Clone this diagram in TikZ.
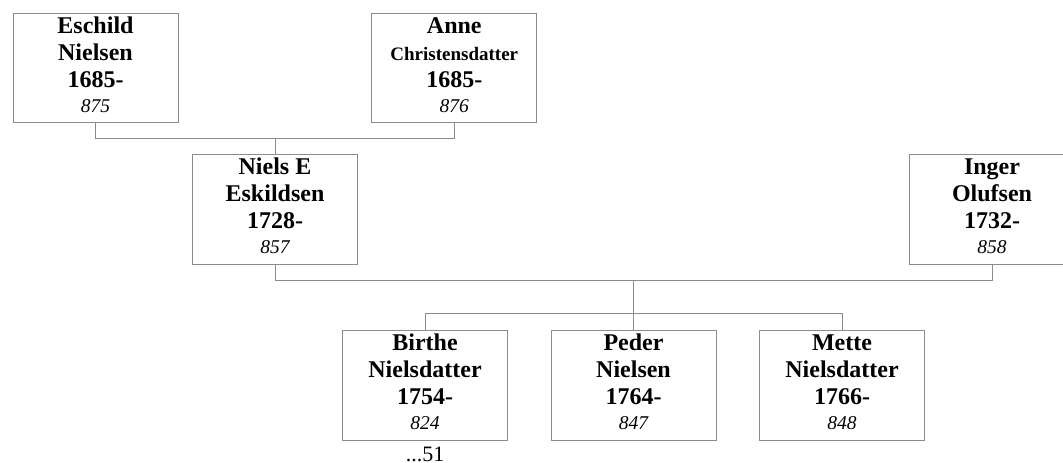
\documentclass[tikz,border=0pt]{standalone}
\usepackage{fontspec}
\setmainfont{Liberation Serif}
\usetikzlibrary{calc}
\definecolor{lc}{RGB}{140,140,140}
\newcommand\personbox[8]{%
  \node[box,anchor=north] (#1) at (#2,#3) {};
  \node[nm] (#1-a) at ($(#1.north)+(0,20.5)$) {#4};
  \node[nm,font=#8] (#1-b) at ($(#1.north)+(0,47.5)$) {#5};
  \node[nm] (#1-c) at ($(#1.north)+(0,74.5)$) {#6};
  \node[num] (#1-d) at ($(#1.north)+(0,99.5)$) {#7};
}
\begin{document}
\begin{tikzpicture}[x=1pt,y=-1pt,
  box/.style={draw=lc,line width=1pt,minimum width=165pt,minimum height=109.5pt,inner sep=0pt,fill=white},
  nm/.style={anchor=base,inner sep=0pt,font=\bfseries\fontsize{24}{24}\selectfont},
  num/.style={anchor=base,inner sep=0pt,font=\itshape\fontsize{19.5}{19.5}\selectfont},
  ln/.style={draw=lc,line width=1pt}]
\useasboundingbox (0,0) rectangle (1063,463);
\clip (0,0) rectangle (1063,463);
\personbox{A}{95.5}{12.7}{Eschild}{Nielsen}{1685-}{875}{\bfseries\fontsize{24}{24}\selectfont}
\personbox{B}{454.3}{12.7}{Anne}{Christensdatter}{1685-}{876}{\bfseries\fontsize{19}{19}\selectfont}
\personbox{C}{275}{154}{Niels E}{Eskildsen}{1728-}{857}{\bfseries\fontsize{24}{24}\selectfont}
\personbox{D}{992}{154}{Inger}{Olufsen}{1732-}{858}{\bfseries\fontsize{24}{24}\selectfont}
\personbox{E}{425}{330}{Birthe}{Nielsdatter}{1754-}{824}{\bfseries\fontsize{24}{24}\selectfont}
\personbox{F}{633.5}{330}{Peder}{Nielsen}{1764-}{847}{\bfseries\fontsize{24}{24}\selectfont}
\personbox{G}{842}{330}{Mette}{Nielsdatter}{1766-}{848}{\bfseries\fontsize{24}{24}\selectfont}
\node[anchor=base,inner sep=0pt,font=\fontsize{22}{22}\selectfont] (E-note) at ($(E.south)+(0,21)$) {...51};
\coordinate (ab) at ($(A.south)+(0,15.5)$);
\coordinate (cd) at ($(C.south)+(0,15.5)$);
\coordinate (bar) at ($(F.north)+(0,-16.7)$);
\draw[ln] (A.south) -- (ab) -| (B.south);
\draw[ln] (C.north) -- (C.north |- ab);
\draw[ln] (C.south) -- (cd) -| (D.south);
\draw[ln] (F.north) -- (F.north |- cd);
\draw[ln] (E.north) |- (bar) -| (G.north);
\end{tikzpicture}
\end{document}
